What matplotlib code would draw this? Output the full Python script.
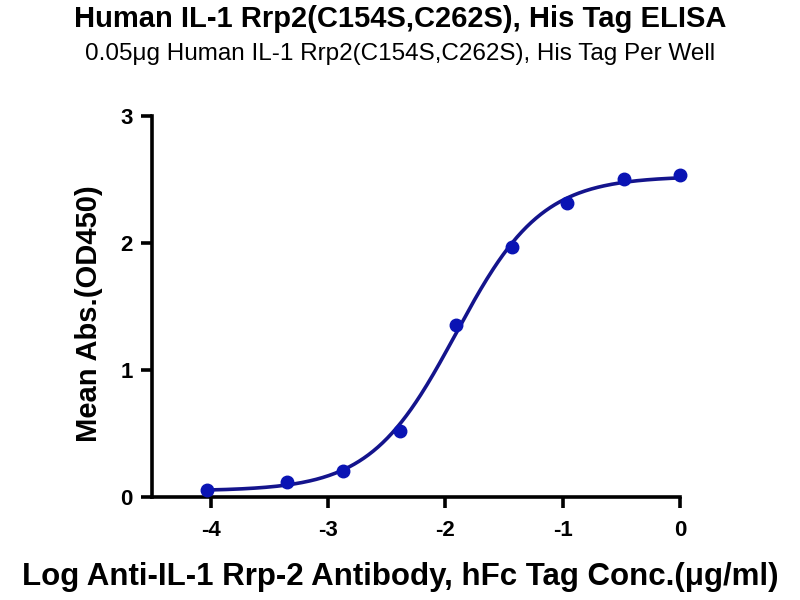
import numpy as np
import matplotlib.pyplot as plt

plt.rcParams['font.family'] = ['Liberation Sans', 'DejaVu Sans']

# data
logConc = [-4.03, -3.35, -2.87, -2.39, -1.91, -1.43, -0.96, -0.48, 0.0]
meanAbs = [0.055, 0.12, 0.20, 0.52, 1.35, 1.97, 2.31, 2.50, 2.53]

title = "Human IL-1 Rrp2(C154S,C262S), His Tag ELISA"
subtitle = "0.05\u03bcg Human IL-1 Rrp2(C154S,C262S), His Tag Per Well"
xlabel = "Log Anti-IL-1 Rrp-2 Antibody, hFc Tag Conc.(\u03bcg/ml)"
ylabel = "Mean Abs.(OD450)"

lineColor = "#14148c"
dotColor = "#0a14b4"


def fit4pl(x, y):
    # grid over ec50/hill, linear least squares for bottom/top
    x = np.asarray(x)
    y = np.asarray(y)
    best = None
    for ec in np.linspace(-3, -1, 401):
        for h in np.linspace(0.5, 2.5, 201):
            s = 1.0 / (1.0 + 10 ** ((ec - x) * h))
            A = np.column_stack([1 - s, s])
            coef, res, _, _ = np.linalg.lstsq(A, y, rcond=None)
            err = np.sum((A @ coef - y) ** 2)
            if best is None or err < best[0]:
                best = (err, coef[0], coef[1], ec, h)
    return best[1:]


bottom, top, ec50, hill = fit4pl(logConc, meanAbs)
xs = np.linspace(min(logConc), max(logConc), 300)
ys = bottom + (top - bottom) / (1 + 10 ** ((ec50 - xs) * hill))

fig = plt.figure(figsize=(8, 6), dpi=100)
ax = fig.add_axes([0.19, 0.172, 0.66, 0.635])

ax.plot(xs, ys, color=lineColor, lw=2.6, clip_on=False, zorder=2)
ax.plot(logConc, meanAbs, 'o', color=dotColor, ms=9, clip_on=False, zorder=3)

ax.set_xlim(-4.5, 0)
ax.set_ylim(0, 3)
ax.set_xticks([-4, -3, -2, -1, 0])
ax.set_yticks([0, 1, 2, 3])
ax.set_xticklabels(["-4", "-3", "-2", "-1", "0"])
ax.set_yticklabels(["0", "1", "2", "3"])

for s in ["top", "right"]:
    ax.spines[s].set_visible(False)
for s in ["left", "bottom"]:
    ax.spines[s].set_linewidth(2.6)
ax.tick_params(width=2.6, length=8, labelsize=16, pad=6)
ax.tick_params(axis="x", pad=9)
for lab in ax.get_xticklabels() + ax.get_yticklabels():
    lab.set_fontweight("bold")

ax.set_ylabel(ylabel, fontsize=21, fontweight="bold")
ax.yaxis.set_label_coords(-0.093, 0.48)

# x label is centred on the figure, not the axes
fig.text(0.5, 0.038, xlabel, ha="center", va="center", fontsize=22.5, fontweight="bold")
fig.text(0.5, 0.968, title, ha="center", va="center", fontsize=21, fontweight="bold")
fig.text(0.5, 0.91, subtitle, ha="center", va="center", fontsize=17.5)

fig.savefig("out.png", dpi=100)
